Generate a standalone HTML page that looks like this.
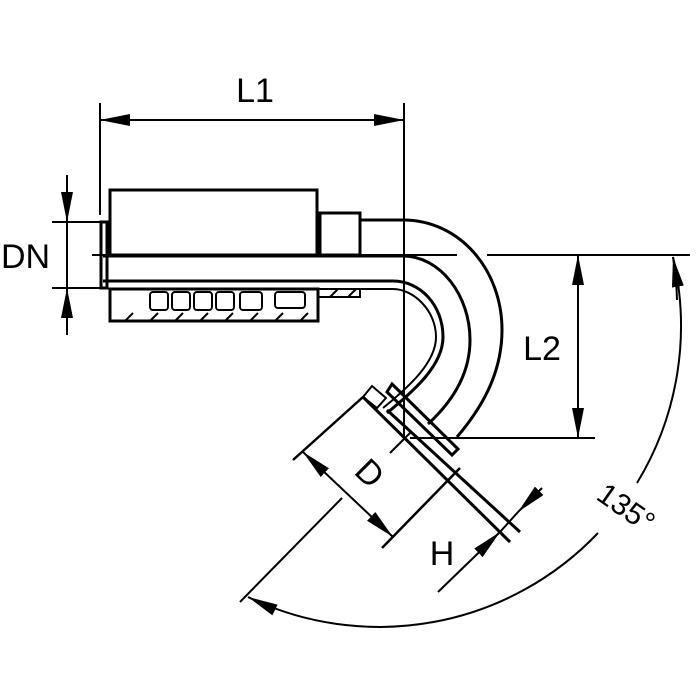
<!DOCTYPE html>
<html><head><meta charset="utf-8"><style>
html,body{margin:0;padding:0;background:#fff;}
svg{display:block;}
text{font-family:"Liberation Sans",sans-serif;fill:#000;}
</style></head><body>
<svg width="700" height="700" viewBox="0 0 700 700" xmlns="http://www.w3.org/2000/svg">
<defs>
<marker id="a" viewBox="0 0 30 12" refX="30" refY="6" markerWidth="30" markerHeight="12" markerUnits="userSpaceOnUse" orient="auto"><path d="M0 0 L30 6 L0 12 Z" fill="#000"/></marker>
<marker id="b" viewBox="0 0 30 12" refX="0" refY="6" markerWidth="30" markerHeight="12" markerUnits="userSpaceOnUse" orient="auto"><path d="M30 0 L0 6 L30 12 Z" fill="#000"/></marker>
</defs>
<g fill="none" stroke="#000" stroke-width="2">
<line x1="100" y1="103" x2="100" y2="215"/>
<line x1="404" y1="103" x2="404" y2="440"/>
<line x1="100" y1="120" x2="404" y2="120" marker-start="url(#b)" marker-end="url(#a)"/>
<line x1="52" y1="222" x2="100" y2="222"/>
<line x1="52" y1="288" x2="100" y2="288"/>
<line x1="67" y1="175" x2="67" y2="222" marker-end="url(#a)"/>
<line x1="67" y1="222" x2="67" y2="288"/>
<line x1="67" y1="335" x2="67" y2="288" marker-end="url(#a)"/>
<line x1="92" y1="255" x2="457" y2="255"/>
<line x1="487" y1="255" x2="690" y2="255"/>
<line x1="410" y1="438" x2="595" y2="438"/>
<line x1="578" y1="255" x2="578" y2="438" marker-start="url(#b)" marker-end="url(#a)"/>
<path d="M673 257 A302 302 0 0 1 637 483"/>
<path d="M598 533 A302 302 0 0 1 248 597" marker-end="url(#a)"/>
<path d="M677 300 A302 302 0 0 0 673 257" marker-end="url(#a)"/>
<line x1="240" y1="602" x2="342" y2="498"/>
<line x1="390" y1="453" x2="410" y2="433"/>
<line x1="303" y1="452" x2="393" y2="537" marker-start="url(#b)" marker-end="url(#a)"/>
<line x1="438" y1="592" x2="500" y2="532" marker-end="url(#a)"/>
<line x1="542" y1="488" x2="518" y2="512" marker-end="url(#a)"/>
<line x1="500" y1="532" x2="518" y2="512"/>
</g>
<g fill="none" stroke="#000" stroke-width="3">
<rect x="110" y="190" width="207" height="65"/>
<rect x="101" y="222" width="6" height="66"/>
<rect x="320" y="213" width="40" height="42"/>
<path d="M360 220 L403 220 C460 220 502 270 502 330 C502 375 480 410 457 437"/>
<path d="M103 256 L403 256 C440 256 470 295 470 340 C470 375 452 402 428 424"/>
<path d="M103 281 L393 281 C420 281 443 305 443 337 C443 365 415 390 387 413"/>
<path d="M318 289 L393 289 C413 289 436 310 436 337 C436 362 410 386 383 408" stroke-width="2"/>
<rect x="110" y="289" width="208" height="32"/>
<path d="M318 289 L318 297 L360 297 L360 289" stroke-width="2"/>
<line x1="293" y1="460" x2="363" y2="397" stroke-width="2.5"/>
<line x1="382" y1="548" x2="460" y2="468" stroke-width="2.5"/>
<line x1="363" y1="397" x2="510" y2="542"/>
<line x1="387" y1="410" x2="520" y2="532"/>
<polygon points="392,384 458,449 452,455 387,392"/>
<polygon points="363,397 372,386 386,398 377,408" stroke-width="2"/>
</g>
<g fill="none" stroke="#000" stroke-width="2">
<rect x="150" y="292" width="18" height="18" rx="3"/>
<rect x="172" y="292" width="18" height="18" rx="3"/>
<rect x="194" y="292" width="18" height="18" rx="3"/>
<rect x="216" y="292" width="18" height="18" rx="3"/>
<rect x="240" y="292" width="22" height="18" rx="3"/>
<rect x="275" y="292" width="30" height="16" rx="3"/>
<path d="M125 321 l8 -8 M150 321 l8 -8 M175 321 l8 -8 M200 321 l8 -8 M225 321 l8 -8 M250 321 l8 -8 M275 321 l8 -8 M300 321 l8 -8 M330 297 l8 -8 M348 297 l8 -8"/>
</g>
<text x="255" y="102" font-size="34" text-anchor="middle">L1</text>
<text x="1" y="268" font-size="34">DN</text>
<text x="542" y="360" font-size="34" text-anchor="middle">L2</text>
<text x="442" y="565" font-size="34" text-anchor="middle">H</text>
<text transform="translate(370,473) rotate(45)" x="0" y="12" font-size="34" text-anchor="middle">D</text>
<text transform="translate(626,508) rotate(35)" x="0" y="10" font-size="30" text-anchor="middle">135°</text>
</svg>
</body></html>
